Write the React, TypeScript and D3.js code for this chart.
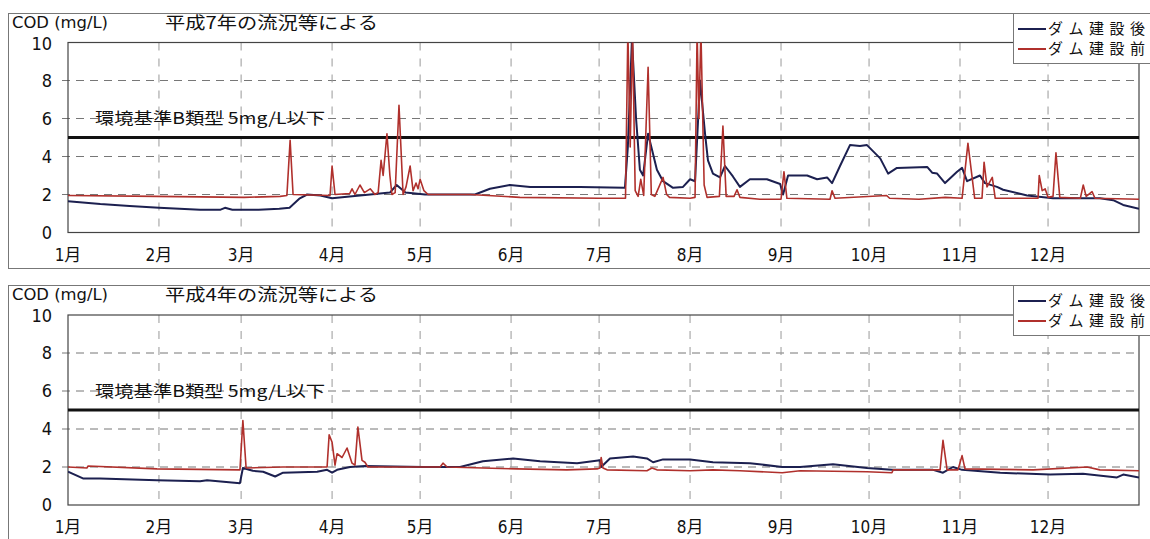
import React from "react";
import * as d3 from "d3";

// day-of-year (0-365) and COD value
const AFTER_H7: [number, number][] = [
  [0, 1.65], [11, 1.5], [21, 1.4], [31, 1.3], [45, 1.2], [52, 1.2], [53.5, 1.3], [56, 1.2],
  [65, 1.2], [72, 1.25], [75.5, 1.3], [79, 1.8], [81.5, 2.0], [86, 1.95], [90, 1.8],
  [96, 1.9], [103, 2.0], [109.7, 2.1], [112, 2.5], [115, 2.1], [121.7, 2.0], [138.7, 2.0],
  [143.8, 2.3], [150.6, 2.5], [157.5, 2.4], [174.5, 2.4], [189.8, 2.35], [190.8, 4.5],
  [192.2, 10.2], [193.6, 6.0], [194.9, 3.3], [196, 3.0], [197.7, 5.2], [200.7, 3.3],
  [202.8, 2.7], [206.2, 2.35], [209.6, 2.4], [212, 2.8], [213.7, 2.7], [215.4, 8.0],
  [217.1, 5.2], [218.1, 3.8], [219.8, 3.1], [222.2, 2.9], [223.9, 3.5], [226.6, 2.95],
  [229, 2.4], [232.4, 2.8], [238.2, 2.8], [242.7, 2.55], [243.7, 2.0], [245.4, 3.0],
  [251.9, 3.0], [255.3, 2.8], [258.7, 2.9], [260.4, 2.6], [263.1, 3.5], [266.5, 4.6],
  [269.9, 4.55], [272.3, 4.6], [276.8, 3.9], [279.5, 3.1], [282.5, 3.4], [292.8, 3.45],
  [294.5, 3.15], [296.2, 3.1], [298.9, 2.6], [303, 3.2], [304.7, 3.4], [306.4, 2.7],
  [310.8, 3.0], [312.5, 2.6], [316.6, 2.4], [318.7, 2.25], [326.9, 1.95], [335.7, 1.8],
  [351.7, 1.8], [356.2, 1.7], [359.6, 1.45], [365, 1.25],
];

const BEFORE_H7: [number, number][] = [
  [0, 1.95], [30, 1.9], [60, 1.85], [72.3, 1.9], [74.6, 1.95], [75.7, 4.85], [76.7, 2.0],
  [89.3, 1.95], [90, 3.5], [91, 2.0], [96, 2.05], [96.8, 2.3], [97.8, 2.0], [99.5, 2.5],
  [101, 2.1], [103, 2.3], [104.6, 2.0], [105.7, 2.1], [106.7, 3.8], [107.4, 3.0],
  [108.7, 5.2], [109.7, 3.0], [110.4, 2.0], [111.5, 2.1], [112.8, 6.7], [114.2, 2.0],
  [115.2, 2.4], [116.6, 3.5], [117.6, 2.2], [118.6, 2.6], [119.3, 2.3], [120, 2.8],
  [121.3, 2.2], [122.7, 2.0], [137, 2.0], [154, 1.85], [181, 1.8], [190, 1.8],
  [190.8, 10.6], [191.6, 4.5], [192.4, 10.6], [193.3, 2.2], [194.3, 1.9], [195.2, 2.8],
  [196.2, 1.95], [197.7, 8.7], [198.8, 2.0], [200, 1.9], [202.8, 2.9], [204, 2.0],
  [205, 1.85], [212, 1.8], [213.7, 1.85], [214.4, 10.6], [215, 6.0], [215.7, 10.6],
  [216.8, 2.5], [217.8, 1.85], [222, 1.9], [223.2, 5.6], [224.3, 1.9], [227, 1.9],
  [228, 2.25], [229, 1.85], [235.8, 1.75], [243, 1.75], [244, 3.2], [245, 1.8],
  [259.7, 1.75], [260.4, 2.2], [261.4, 1.8], [279, 1.95], [280, 1.8], [290, 1.75],
  [299, 1.85], [304.7, 1.8], [306.7, 4.7], [309, 1.8], [311.5, 1.8], [312.2, 3.7],
  [313.2, 2.4], [315, 2.9], [316, 1.8], [330.6, 1.8], [331, 3.0], [332, 2.2], [333, 2.3],
  [334, 1.85], [335.7, 1.9], [336.7, 4.2], [338, 1.85], [345, 1.8], [346, 2.5], [347, 1.9],
  [349, 2.15], [350, 1.8], [365, 1.75],
];

const AFTER_H4: [number, number][] = [
  [0, 1.75], [5.1, 1.4], [10.9, 1.4], [30.3, 1.3], [45, 1.25], [47.4, 1.3], [58.6, 1.15],
  [59.6, 1.95], [63, 1.8], [66.5, 1.75], [70.6, 1.5], [73.3, 1.7], [84.9, 1.75],
  [88.3, 1.85], [90, 1.7], [91.7, 1.85], [96.1, 2.0], [101.2, 2.05], [121, 2.0],
  [133.6, 2.0], [141.4, 2.3], [151.7, 2.45], [160.9, 2.3], [173.5, 2.2], [181.3, 2.35],
  [181.7, 2.0], [184.7, 2.45], [192.6, 2.55], [197.3, 2.45], [199.4, 2.25], [202.8, 2.4],
  [212, 2.4], [219.8, 2.25], [232.4, 2.2], [243.4, 2.0], [249.5, 2.0], [260.7, 2.15],
  [272.3, 1.95], [280.8, 1.85], [294.8, 1.85], [298.2, 1.7], [301.6, 2.0], [304.7, 1.85],
  [317.7, 1.7], [334.7, 1.6], [345.9, 1.65], [357.5, 1.45], [359.6, 1.6], [365, 1.45],
];

const BEFORE_H4: [number, number][] = [
  [0, 2.0], [6.5, 1.95], [6.8, 2.05], [30.3, 1.9], [58.6, 1.85], [59.6, 4.45], [60.7, 1.95],
  [73.3, 2.0], [88.3, 2.0], [89, 3.7], [90, 3.3], [91, 2.1], [91.7, 2.7], [93.4, 2.5],
  [95.1, 3.0], [96.8, 2.2], [97.8, 2.1], [98.8, 4.1], [100.2, 2.35], [101.2, 2.25],
  [102.2, 2.0], [121, 2.0], [126.8, 2.0], [127.8, 2.2], [129.2, 2.0], [141.4, 1.95],
  [153, 1.9], [170, 1.85], [180.3, 1.9], [181.3, 1.95], [181.7, 2.5], [182.3, 1.95],
  [183.7, 1.85], [197.3, 1.8], [199, 1.95], [200.7, 1.85], [212, 1.8], [219.8, 1.85],
  [229, 1.8], [243.4, 1.7], [249.5, 1.8], [272.3, 1.75], [280.8, 1.7], [281.2, 1.85],
  [297.2, 1.85], [298.2, 3.4], [299.6, 1.85], [303.3, 1.85], [304.7, 2.6], [305.7, 1.9],
  [328.9, 1.85], [347.3, 2.0], [351.7, 1.85], [365, 1.8],
];

const MONTHS = ["1月", "2月", "3月", "4月", "5月", "6月", "7月", "8月", "9月", "10月", "11月", "12月"];
const MONTH_START = [0, 31, 59, 90, 120, 151, 181, 212, 243, 273, 304, 334];
const Y_TICKS = [0, 2, 4, 6, 8, 10];
const STANDARD = 5;
const LEGEND = ["ダム建設後", "ダム建設前"];

const BLUE = "#1c2050";
const RED = "#b0302c";
const NUM_FONT = "'Liberation Sans Narrow', 'DejaVu Sans Condensed', 'Noto Sans CJK JP', sans-serif";
const JP_FONT = "'Noto Sans CJK JP', sans-serif";

type PanelProps = {
  id: string;
  frameTop: number;
  plotTop: number;
  plotBottom: number;
  title: string;
  after: [number, number][];
  before: [number, number][];
};

const Panel = ({ id, frameTop, plotTop, plotBottom, title, after, before }: PanelProps) => {
  const x = d3.scaleLinear().domain([0, 365]).range([68, 1139]);
  const y = d3.scaleLinear().domain([0, 10]).range([plotBottom, plotTop]);
  const line = d3
    .line<[number, number]>()
    .x((d) => x(d[0]))
    .y((d) => y(d[1]));

  return (
    <g>
      <defs>
        <clipPath id={`clip-${id}`}>
          <rect x={x(0)} y={plotTop} width={x(365) - x(0)} height={plotBottom - plotTop} />
        </clipPath>
      </defs>
      {/* outer frame */}
      <rect x={8.5} y={frameTop + 0.5} width={1200} height={255} fill="#fff" stroke="#777" strokeWidth={1} />

      <text x={12} y={frameTop + 15} fontFamily={NUM_FONT} fontSize={16} textLength={96} lengthAdjust="spacingAndGlyphs" fill="#111">
        COD (mg/L)
      </text>
      <text x={165} y={frameTop + 16} fontFamily={JP_FONT} fontSize={17} textLength={213} lengthAdjust="spacingAndGlyphs" fill="#111">
        {title}
      </text>

      {/* grid */}
      {Y_TICKS.filter((t) => t > 0 && t < 10).map((t) => (
        <line key={`h${t}`} x1={x(0) - 6} x2={x(365)} y1={y(t)} y2={y(t)} stroke="#777" strokeWidth={1} strokeDasharray="8,6" />
      ))}
      {MONTH_START.slice(1).map((d) => (
        <line key={`v${d}`} x1={x(d)} x2={x(d)} y1={plotTop} y2={plotBottom} stroke="#999" strokeWidth={1} strokeDasharray="8,8" />
      ))}
      <rect x={x(0)} y={plotTop} width={x(365) - x(0)} height={plotBottom - plotTop} fill="none" stroke="#444" strokeWidth={1.2} />

      {/* y labels */}
      {Y_TICKS.map((t) => (
        <text key={`yl${t}`} x={52} y={y(t) + (t === 10 ? 1 : 0)} dy="0.36em" textAnchor="end" fontFamily={NUM_FONT} fontSize={18} fill="#111">
          {t}
        </text>
      ))}
      {/* month labels */}
      {MONTHS.map((m, i) => (
        <text key={m} x={x(MONTH_START[i])} y={plotBottom + 28} textAnchor="middle" fontFamily={NUM_FONT} fontSize={17} fill="#111">
          {m}
        </text>
      ))}

      <text x={95} y={y(6)} dy="0.36em" fontFamily={JP_FONT} fontSize={16} textLength={230} lengthAdjust="spacingAndGlyphs" fill="#111">
        環境基準B類型 5mg/L以下
      </text>
      <line x1={x(0)} x2={x(365)} y1={y(STANDARD)} y2={y(STANDARD)} stroke="#111" strokeWidth={3.2} />

      <g clipPath={`url(#clip-${id})`}>
        <path d={line(after) ?? ""} fill="none" stroke={BLUE} strokeWidth={2} strokeLinejoin="round" />
        <path d={line(before) ?? ""} fill="none" stroke={RED} strokeWidth={1.6} strokeLinejoin="round" />
      </g>

      {/* legend */}
      <rect x={1013.5} y={frameTop + 0.5} width={200} height={50} fill="#fff" stroke="#777" strokeWidth={1} />
      {LEGEND.map((label, i) => (
        <g key={label}>
          <line x1={1018} x2={1046} y1={frameTop + 16 + i * 20} y2={frameTop + 16 + i * 20} stroke={i === 0 ? BLUE : RED} strokeWidth={2} />
          <text x={1048} y={frameTop + 16 + i * 20} dy="0.36em" fontFamily={JP_FONT} fontSize={15} letterSpacing={5.5} fill="#111">
            {label}
          </text>
        </g>
      ))}
    </g>
  );
};

export default function App() {
  return (
    <svg width={1150} height={539} style={{ position: "absolute", left: 0, top: 0, background: "#fff" }}>
      <Panel id="h7" frameTop={13} plotTop={42.5} plotBottom={232.5} title="平成7年の流況等による" after={AFTER_H7} before={BEFORE_H7} />
      <Panel id="h4" frameTop={285} plotTop={315} plotBottom={505} title="平成4年の流況等による" after={AFTER_H4} before={BEFORE_H4} />
    </svg>
  );
}
